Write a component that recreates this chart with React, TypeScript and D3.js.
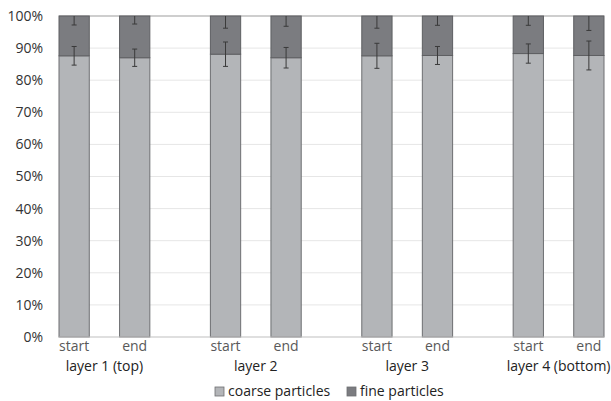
import React from "react";
import * as d3 from "d3";

const groups = ["layer 1 (top)", "layer 2", "layer 3", "layer 4 (bottom)"];
const phases = ["start", "end"];
// coarse particle share (%) per bar, in order layer1 start, layer1 end, ...
const coarseValues = [87.6, 87.0, 88.1, 87.0, 87.6, 87.7, 88.3, 87.7];
const coarseErrors = [2.9, 2.7, 3.8, 3.2, 3.9, 2.8, 3.0, 4.5];
const fineErrors = [2.8, 2.5, 3.8, 3.2, 3.8, 2.9, 2.9, 4.5];
const yTicks = [0, 10, 20, 30, 40, 50, 60, 70, 80, 90, 100];
const seriesNames = ["coarse particles", "fine particles"];
const seriesColors = ["#b3b5b8", "#7b7c80"];

const W = 611;
const H = 401;
const left = 59;
const right = 604;
const top = 16;
const bottom = 337;
const font = "'Open Sans', 'Liberation Sans', sans-serif";

export default function App() {
  const y = d3.scaleLinear().domain([0, 100]).range([bottom, top]);
  // 18 bar-width units across: pair of bars with a one-unit gap, three-unit gap between groups
  const x = d3.scaleLinear().domain([0, 18]).range([left, right]);
  const bw = x(1) - x(0);
  const bars = coarseValues.map((v, i) => {
    const g = Math.floor(i / 2);
    const p = i % 2;
    const u = g * 5 + p * 2;
    return { v, g, p, x0: x(u), cx: x(u + 0.5), ce: coarseErrors[i], fe: fineErrors[i] };
  });
  const cap = 2.5;
  return (
    <svg width={W} height={H} style={{ display: "block", position: "absolute", left: 0, top: 0 }}>
      <rect x={0} y={0} width={W} height={H} fill="#fff" />
      <defs>
        <clipPath id="plot">
          <rect x={left - 2} y={top} width={right - left + 4} height={bottom - top} />
        </clipPath>
      </defs>
      {yTicks.map((t) => (
        <g key={t}>
          {t > 0 && t < 100 && (
            <line x1={left} x2={right} y1={y(t)} y2={y(t)} stroke="#e6e6e6" strokeWidth={1} />
          )}
          <text
            x={43}
            y={y(t)}
            dy="0.35em"
            textAnchor="end"
            fontFamily={font}
            fontSize={14}
            fill="#333"
          >
            {t}%
          </text>
        </g>
      ))}
      <line x1={left} x2={right} y1={y(100)} y2={y(100)} stroke="#9e9e9e" strokeWidth={1.2} />
      {bars.map((b, i) => (
        <g key={i}>
          <rect
            x={b.x0}
            y={y(b.v)}
            width={bw}
            height={y(0) - y(b.v)}
            fill={seriesColors[0]}
            stroke="#6e6f72"
            strokeWidth={1}
          />
          <rect
            x={b.x0}
            y={y(100)}
            width={bw}
            height={y(b.v) - y(100)}
            fill={seriesColors[1]}
            stroke="#5e5f62"
            strokeWidth={1}
          />
        </g>
      ))}
      <line x1={left} x2={right} y1={y(0)} y2={y(0)} stroke="#bfbfbf" strokeWidth={1} />
      <g clipPath="url(#plot)" stroke="#3a3a3a" strokeWidth={1}>
        {bars.map((b, i) => (
          <g key={i}>
            <line x1={b.cx} x2={b.cx} y1={y(b.v + b.ce)} y2={y(b.v - b.ce)} />
            <line x1={b.cx - cap} x2={b.cx + cap} y1={y(b.v + b.ce)} y2={y(b.v + b.ce)} />
            <line x1={b.cx - cap} x2={b.cx + cap} y1={y(b.v - b.ce)} y2={y(b.v - b.ce)} />
            <line x1={b.cx} x2={b.cx} y1={y(100 + b.fe)} y2={y(100 - b.fe)} />
            <line x1={b.cx - cap} x2={b.cx + cap} y1={y(100 - b.fe)} y2={y(100 - b.fe)} />
          </g>
        ))}
      </g>
      {bars.map((b, i) => (
        <text
          key={i}
          x={b.cx}
          y={351}
          textAnchor="middle"
          fontFamily={font}
          fontSize={14}
          fill="#595959"
        >
          {phases[b.p]}
        </text>
      ))}
      {groups.map((g, gi) => (
        <text
          key={g}
          x={(x(gi * 5) + x(gi * 5 + 3)) / 2}
          y={371}
          textAnchor="middle"
          fontFamily={font}
          fontSize={14}
          fill="#222"
        >
          {g}
        </text>
      ))}
      {seriesNames.map((s, i) => {
        const lx = i === 0 ? 215 : 347;
        return (
          <g key={s}>
            <rect x={lx} y={387} width={9} height={9} fill={seriesColors[i]} stroke="#6e6f72" strokeWidth={0.8} />
            <text x={lx + 13} y={396} fontFamily={font} fontSize={14} fill="#222">
              {s}
            </text>
          </g>
        );
      })}
    </svg>
  );
}
